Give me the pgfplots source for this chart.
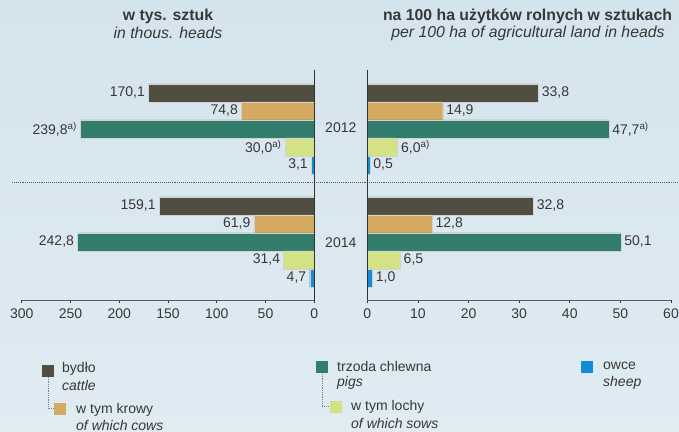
\documentclass[border=0pt]{standalone}
\usepackage{pgfplots}
\pgfplotsset{compat=1.18}
\usepackage{fontspec}
\setmainfont{Liberation Sans}

\definecolor{bgtop}{RGB}{212,228,237}
\definecolor{bgbot}{RGB}{224,235,242}
\definecolor{txt}{RGB}{55,55,55}
\definecolor{axisdark}{RGB}{50,50,50}
\definecolor{cattle}{HTML}{504E40}
\definecolor{cows}{HTML}{D4A960}
\definecolor{pigs}{HTML}{337D6C}
\definecolor{sows}{HTML}{D4E286}
\definecolor{sheep}{HTML}{148CD2}

\newcommand{\lbl}{\fontsize{14}{16}\selectfont}
\newcommand{\ttl}{\fontsize{15.8}{18}\selectfont}
\newcommand{\supa}{\textsuperscript{a)}}

\pgfplotsset{
  half/.style={
    scale only axis, height=230pt,
    ymin=0, ymax=230,
    xbar, bar shift=0pt, bar width=18,
    axis y line=none, axis x line*=bottom,
    ytick=\empty,
    clip=false,
    nodes near coords,
    point meta=explicit symbolic,
    every node near coord/.append style={font=\lbl, text=txt},
    tick label style={font=\lbl, text=txt},
    xticklabel style={yshift=-3pt},
    /pgf/number format/assume math mode=true,
    axis line style={draw=axisdark!80, line width=0.8pt},
    tick style={draw=axisdark, line width=0.8pt},
    major tick length=2.5pt, tick align=outside,
  },
  bars/.style={draw=gray!35, line width=0.4pt},
}

\begin{document}
\begin{tikzpicture}[x=1pt,y=1pt]
\useasboundingbox (0,0) rectangle (679,431);
\shade[top color=bgtop, bottom color=bgbot] (0,0) rectangle (679,431);

% titles
\node[font=\bfseries\ttl, text=txt] at (168,415) {w tys. sztuk};
\node[font=\itshape\ttl, text=txt] at (168,398) {in thous. heads};
\node[font=\bfseries\ttl, text=txt] at (527.5,415) {na 100 ha użytków rolnych w sztukach};
\node[font=\itshape\ttl, text=txt] at (528,398) {per 100 ha of agricultural land in heads};

% separator
\draw[axisdark!80, densely dotted, line width=0.9pt] (12,249) -- (679,249);

% left: thousands of heads
\begin{axis}[half,
  at={(21.7pt,131pt)}, anchor=south west, width=292.6pt,
  xmin=0, xmax=300, x dir=reverse,
  xtick={0,50,...,300},
  every node near coord/.append style={anchor=east},
]
\addplot[bars, fill=cattle] coordinates {(170.1,207) [{170,1}] (159.1,94) [{159,1}]};
\addplot[bars, fill=cows]   coordinates {(74.8,189) [{74,8}] (61.9,76) [{61,9}]};
\addplot[bars, fill=pigs]   coordinates {(239.8,171) [{239,8\supa}] (242.8,58) [{242,8}]};
\addplot[bars, fill=sows]   coordinates {(30.0,153) [{30,0\supa}] (31.4,40) [{31,4}]};
\addplot[bars, fill=sheep]  coordinates {(3.1,135) [{3,1}] (4.7,22) [{4,7}]};
\draw[axisdark, line width=1.3pt] (axis cs:0,0) -- (axis cs:0,230);
\end{axis}

% right: per 100 ha
\begin{axis}[half,
  at={(367.3pt,131pt)}, anchor=south west, width=303.7pt,
  xmin=0, xmax=60,
  xtick={0,10,...,60},
  every node near coord/.append style={anchor=west},
]
\addplot[bars, fill=cattle] coordinates {(33.8,207) [{33,8}] (32.8,94) [{32,8}]};
\addplot[bars, fill=cows]   coordinates {(14.9,189) [{14,9}] (12.8,76) [{12,8}]};
\addplot[bars, fill=pigs]   coordinates {(47.7,171) [{47,7\supa}] (50.1,58) [{50,1}]};
\addplot[bars, fill=sows]   coordinates {(6.0,153) [{6,0\supa}] (6.5,40) [{6,5}]};
\addplot[bars, fill=sheep]  coordinates {(0.5,135) [{0,5}] (1.0,22) [{1,0}]};
\draw[axisdark, line width=1.3pt] (axis cs:0,0) -- (axis cs:0,230);
\end{axis}

% years
\node[font=\lbl, text=txt] at (340.8,303) {2012};
\node[font=\lbl, text=txt] at (340.8,188) {2014};

% legend
\begin{scope}[every node/.style={font=\lbl, text=txt, anchor=west, inner sep=0pt}]
\draw[gray, densely dotted, line width=0.8pt] (48,54) -- (48,23) -- (54,23);
\draw[gray, densely dotted, line width=0.8pt] (322,57) -- (322,25) -- (330,25);
\fill[cattle] (42,54.5) rectangle (54,66.5);
\fill[cows] (54,16) rectangle (66,28);
\fill[pigs] (316,58) rectangle (328,70);
\fill[sows] (330,18) rectangle (342,30);
\fill[sheep] (581,58) rectangle (593,70);
\node at (62,62) {bydło};
\node[font=\lbl\itshape] at (62,45.5) {cattle};
\node at (76,21.5) {w tym krowy};
\node[font=\lbl\itshape] at (76,6) {of which cows};
\node at (337,64.5) {trzoda chlewna};
\node[font=\lbl\itshape] at (337,48) {pigs};
\node at (351,24) {w tym lochy};
\node[font=\lbl\itshape] at (351,7.5) {of which sows};
\node at (603,65) {owce};
\node[font=\lbl\itshape] at (603,48.5) {sheep};
\end{scope}
\end{tikzpicture}
\end{document}
